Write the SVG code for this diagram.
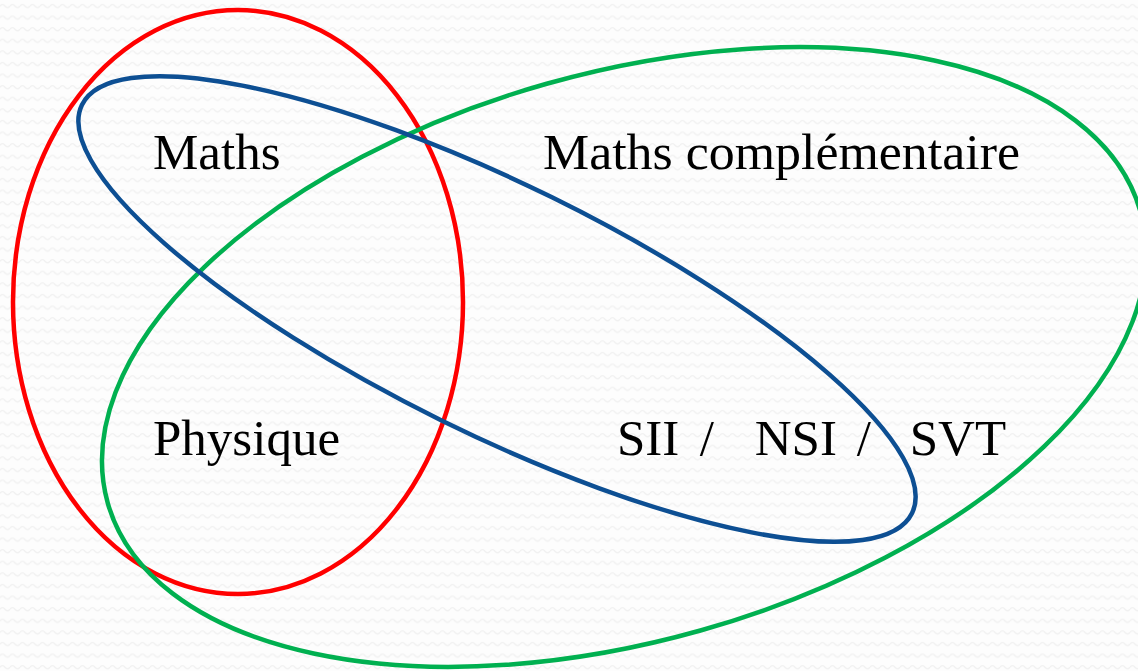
<svg xmlns="http://www.w3.org/2000/svg" width="1138" height="671" viewBox="0 0 1138 671">
  <defs>
    <pattern id="bgwave" x="0" y="0" width="10" height="11.6" patternUnits="userSpaceOnUse">
      <rect width="10" height="11.6" fill="#fdfdfd"/>
      <path d="M0 6 Q2.5 3 5 6 T10 6" fill="none" stroke="#f1f1f1" stroke-width="1.3"/>
    </pattern>
  </defs>
  <style>
    .set { fill: none; stroke-width: 4.5; }
    .lbl { font-family: "Liberation Serif", "DejaVu Serif", serif; font-size: 51px; fill: #000000; }
  </style>
  <rect x="0" y="0" width="1138" height="671" fill="url(#bgwave)"/>
  <g id="connectors"></g>
  <g id="set-red">
    <ellipse class="set" cx="238" cy="302" rx="225" ry="292" stroke="#ff0000"/>
  </g>
  <g id="set-green">
    <ellipse class="set" cx="624" cy="357" rx="536.5" ry="284" transform="rotate(-15.8 624 357)" stroke="#00b050"/>
  </g>
  <g id="set-blue">
    <ellipse class="set" cx="497" cy="309" rx="462.5" ry="124.5" transform="rotate(26.2 497 309)" stroke="#0d4f93"/>
  </g>
  <g id="label-maths">
    <text class="lbl" x="153" y="169">Maths</text>
  </g>
  <g id="label-maths-comp">
    <text class="lbl" x="543" y="169" textLength="477" lengthAdjust="spacingAndGlyphs">Maths complémentaire</text>
  </g>
  <g id="label-physique">
    <text class="lbl" x="153" y="455">Physique</text>
  </g>
  <g id="label-options">
    <text class="lbl" y="455"><tspan x="617">SII</tspan><tspan x="687"> /</tspan><tspan x="742"> NSI</tspan><tspan x="844"> /</tspan><tspan x="897"> SVT</tspan></text>
  </g>
</svg>
